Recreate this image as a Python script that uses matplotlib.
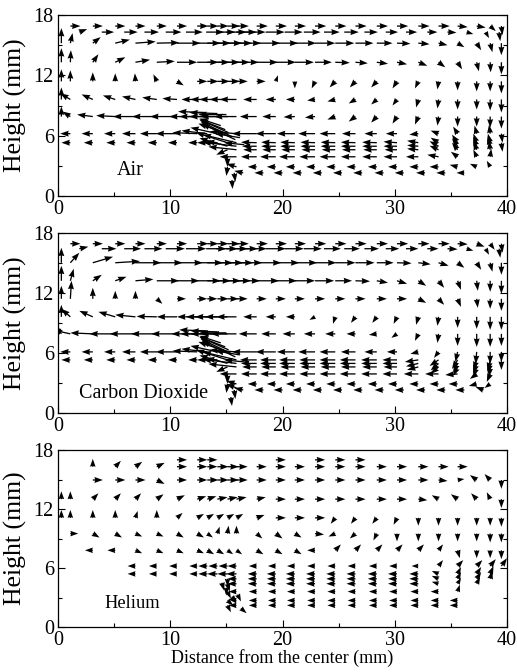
import numpy as np
import matplotlib
matplotlib.use('Agg')
import matplotlib.pyplot as plt
from matplotlib.ticker import MultipleLocator

n = np.nan

# column positions (mm from the centre) of the velocity grid
cols = [0.3, 1.1, 3.1, 5.1, 6.9, 8.8, 10.6, 12.4, 13.3, 14.2, 15.1, 15.9, 17.7,
        19.4, 21.1, 22.9, 24.7, 26.5, 28.4, 30.2, 32.1, 33.9, 35.6, 37.3, 38.5, 39.5]

# ---------------- Air ----------------
air_rows = [16.9, 16.3, 15.2, 13.3, 11.4, 9.6, 7.9, 6.2, 5.3, 4.95, 4.6, 3.9, 2.9, 2.3]
air_u = [
    [n, .9, .9, .9, .9, .9, .9, 1.0, 1.0, 1.0, 1.1, 1.1, 1.0, 1.0, 1.0, 1.0, 1.0, 1.0, 1.0, 1.0, 1.0, 1.0, .9, .8, .5, .1],
    [n, .7, 1.1, 1.2, 1.3, 1.4, 1.5, 1.6, 1.7, 1.8, 1.8, 1.8, 1.7, 1.6, 1.5, 1.4, 1.3, 1.2, 1.1, 1.0, .9, .8, .6, .3, .1, n],
    [0, .2, .7, 1.3, 1.8, 2.0, 2.1, 2.1, 2.1, 2.2, 2.2, 2.2, 2.1, 2.0, 1.9, 1.8, 1.7, 1.6, 1.4, 1.2, 1.0, .8, .6, .4, .2, 0],
    [0, .05, .5, .9, 1.3, 1.6, 1.8, 1.9, 2.0, 2.0, 2.0, 2.0, 1.9, 1.8, 1.7, 1.5, 1.3, 1.1, 1.0, .9, .8, .6, .4, .2, .05, 0],
    [0, 0, 0, 0, -.05, -.3, .6, .9, 1.0, 1.1, 1.1, 1.0, .8, .2, 0, -.3, -.5, -.5, -.5, -.4, -.3, -.1, 0, 0, 0, 0],
    [0, -.9, -1.0, -1.1, -1.2, -1.3, -1.3, -1.4, -1.5, -1.6, -1.6, -1.5, -1.2, -.9, -.8, -.7, -.7, -.6, -.5, -.4, -.2, -.1, 0, 0, 0, 0],
    [0, -.7, -1.4, -1.7, -2.0, -2.2, -2.4, -2.5, -2.5, -2.5, -2.4, -2.0, -1.5, -1.2, -1.0, -.9, -.7, -.6, -.5, -.4, -.3, -.1, 0, 0, 0, 0],
    [n, -.9, -1.0, -1.0, -1.2, -1.5, -1.9, -2.2, -2.3, -2.4, -2.6, -2.4, -2.2, -1.8, -1.6, -1.5, -1.4, -1.2, -1.1, -1.0, -.8, -.7, -.4, -.2, -.1, .1],
    [n, -.8, -.8, -.8, -.8, -.8, -.8, -.8, -.9, -1.0, -2.8, -3.0, -1.4, -1.3, -1.3, -1.3, -1.3, -1.3, -1.3, -1.2, -1.0, -.7, -.5, -.3, -.2, .1],
    [n, n, n, n, n, n, n, n, n, n, -2.5, -3.0, -1.3, -1.3, -1.3, -1.3, -1.3, -1.3, -1.3, -1.2, -1.0, -.8, -.5, -.3, -.2, n],
    [n, n, n, n, n, n, n, n, n, n, -1.0, -2.5, -1.2, -1.2, -1.2, -1.2, -1.2, -1.2, -1.2, -1.1, -1.0, -.8, -.5, -.3, -.1, n],
    [n, n, n, n, n, n, n, n, n, n, 0, -1.5, -1.4, -1.4, -1.4, -1.4, -1.4, -1.3, -1.3, -1.2, -1.1, -1.0, -.6, -.3, .1, n],
    [n, n, n, n, n, n, n, n, n, n, -.1, -.9, -.8, -.8, -.8, -.8, -.8, -.8, -.8, -.8, -.8, -.8, -.7, -.6, -.3, n],
    [n, n, n, n, n, n, n, n, n, n, .1, -.8, -.8, -.8, -.8, -.8, -.8, -.8, -.8, -.8, -.8, -.8, -.7, n, n, n],
]
air_v = [
    [n, 0, 0, 0, 0, 0, 0, 0, 0, 0, 0, 0, 0, 0, 0, 0, 0, 0, 0, 0, 0, 0, -.1, -.15, -.5, -.9],
    [n, .3, 0, 0, 0, 0, 0, 0, 0, 0, 0, 0, 0, 0, 0, 0, 0, 0, 0, 0, 0, -.05, -.2, -.6, -.9, n],
    [1.5, 1.0, .6, .35, .15, .05, 0, 0, 0, 0, 0, 0, 0, 0, 0, 0, 0, 0, 0, -.05, -.1, -.2, -.4, -.7, -.9, -1.2],
    [1.4, 1.2, .8, .5, .25, .1, 0, 0, 0, 0, 0, 0, 0, 0, 0, 0, -.05, -.1, -.15, -.2, -.35, -.5, -.7, -.9, -1.0, -1.2],
    [1.2, 1.1, .9, .8, .8, .7, -.4, 0, 0, 0, 0, 0, 0, .6, -.7, -.7, -.6, -.6, -.6, -.7, -.7, -.8, -.9, -1.0, -1.0, -1.2],
    [1.2, .6, .5, .4, .3, .2, .1, 0, 0, 0, 0, 0, 0, 0, 0, -.1, -.2, -.4, -.5, -.6, -.8, -.9, -1.0, -1.0, -1.1, -1.3],
    [1.0, .5, .2, .1, 0, 0, 0, 0, 0, 0, 0, 0, 0, 0, -.05, -.1, -.3, -.5, -.6, -.7, -.8, -.9, -1.0, -1.0, -1.1, -1.2],
    [n, 0, 0, 0, 0, 0, 0, .1, .3, .6, 1.0, .2, 0, 0, 0, 0, 0, 0, 0, 0, -.1, .3, .7, .8, .9, -.9],
    [n, 0, 0, 0, 0, 0, 0, 0, 0, .1, 1.0, .8, .05, .05, .05, .05, .05, .05, .05, .1, .2, .5, .8, .9, .9, -.9],
    [n, n, n, n, n, n, n, n, n, n, .8, .4, 0, 0, 0, 0, 0, 0, 0, 0, .1, .5, .8, .9, 1.0, n],
    [n, n, n, n, n, n, n, n, n, n, -.5, .3, 0, 0, 0, 0, 0, 0, 0, 0, .1, .4, .7, .8, .9, n],
    [n, n, n, n, n, n, n, n, n, n, -1.0, 0, 0, 0, 0, 0, 0, 0, 0, 0, 0, .2, .5, .7, .8, n],
    [n, n, n, n, n, n, n, n, n, n, -.9, .3, 0, 0, 0, 0, 0, 0, 0, 0, 0, 0, .2, .3, .6, n],
    [n, n, n, n, n, n, n, n, n, n, -.9, .2, 0, 0, 0, 0, 0, 0, 0, 0, 0, 0, 0, n, n, n],
]
air_ex = [15.8, 15.5, 15.2, 14.9, 14.5, 13.2, 14.2, 15.0, 15.5, 16.2, 16.6]
air_ey = [5.6, 5.9, 6.3, 6.6, 7.0, 8.3, 8.2, 8.1, 1.6, 5.8, 5.1]
air_eu = [-3.0, -2.8, -2.6, -2.3, -1.9, -2.5, -2.5, -2.5, 0.05, -2.2, -1.8]
air_ev = [1.6, 1.5, 1.3, 1.0, 0.7, 0.1, 0.1, 0.0, -0.9, 0.4, 0.2]

# ---------------- Carbon Dioxide ----------------
co2_rows = [16.9, 16.4, 15.0, 13.2, 11.4, 9.6, 7.9, 6.1, 5.3, 4.95, 4.6, 3.9, 2.9, 2.3]
co2_u = [
    [n, .9, .9, .9, .9, .9, .9, 1.0, 1.0, 1.0, 1.1, 1.1, 1.0, 1.0, 1.0, 1.0, 1.0, 1.0, 1.0, 1.0, 1.0, 1.0, .9, .7, .4, .1],
    [n, .8, 1.3, 1.5, 1.6, 1.7, 1.8, 1.8, 1.9, 1.9, 1.9, 1.9, 1.8, 1.7, 1.6, 1.5, 1.4, 1.3, 1.2, 1.1, 1.0, .9, .6, .3, .1, n],
    [0, .8, 1.8, 2.2, 2.3, 2.3, 2.3, 2.3, 2.3, 2.3, 2.3, 2.3, 2.2, 2.1, 2.0, 1.9, 1.8, 1.7, 1.5, 1.3, 1.1, .9, .6, .4, .2, 0],
    [0, .3, .8, 1.0, 1.6, 2.0, 2.0, 2.1, 2.1, 2.1, 2.1, 2.1, 2.0, 1.9, 1.8, 1.7, 1.5, 1.3, 1.0, .9, .7, .5, .3, .1, 0, 0],
    [0, .1, 0, 0, 0, .5, .8, .9, .9, 1.0, 1.0, 1.0, .9, .9, .9, .9, .9, .9, .9, .9, .7, .5, .3, .1, 0, 0],
    [0, -.8, -1.2, -1.5, -1.8, -1.8, -1.8, -1.8, -1.9, -2.0, -2.0, -1.8, -1.2, -.9, -.8, -.5, -.2, -.4, -.4, -.3, -.2, -.1, 0, 0, 0, 0],
    [-.5, -1.6, -2.0, -2.3, -2.3, -2.3, -2.3, -2.3, -2.4, -2.4, -2.4, -2.3, -1.6, -1.3, -1.1, -1.0, -.9, -.8, -.7, -.5, -.3, -.1, 0, 0, 0, 0],
    [n, -.9, -1.0, -1.0, -1.2, -1.5, -1.9, -2.2, -2.3, -2.4, -2.6, -2.4, -2.2, -1.8, -1.6, -1.5, -1.4, -1.3, -1.1, -.9, -.7, -.4, -.2, -.1, 0, 0],
    [n, -.8, -.8, -.8, -.8, -.8, -.8, -.8, -.9, -1.0, -2.8, -3.0, -1.5, -1.4, -1.4, -1.4, -1.4, -1.4, -1.4, -1.3, -1.2, -.8, -.5, -.3, -.2, 0],
    [n, n, n, n, n, n, n, n, n, n, -2.5, -3.0, -1.4, -1.4, -1.4, -1.4, -1.4, -1.4, -1.4, -1.3, -1.1, -.7, -.4, -.3, -.2, n],
    [n, n, n, n, n, n, n, n, n, n, -1.0, -2.5, -1.3, -1.3, -1.3, -1.3, -1.3, -1.3, -1.3, -1.2, -1.0, -.7, -.4, -.3, -.1, n],
    [n, n, n, n, n, n, n, n, n, n, 0, -1.5, -1.4, -1.4, -1.4, -1.4, -1.4, -1.4, -1.4, -1.3, -1.3, -1.2, -1.1, -.6, -.3, n],
    [n, n, n, n, n, n, n, n, n, n, -.1, -.9, -.8, -.8, -.8, -.8, -.8, -.8, -.8, -.8, -.8, -.8, -.8, -.7, -.5, n],
    [n, n, n, n, n, n, n, n, n, n, .1, -.8, -.8, -.8, -.8, -.8, -.8, -.8, -.8, -.8, -.8, -.8, -.8, -.7, n, n],
]
co2_v = [
    [n, 0, 0, 0, 0, 0, 0, 0, 0, 0, 0, 0, 0, 0, 0, 0, 0, 0, 0, 0, 0, 0, -.05, -.3, -.6, -.9],
    [n, .2, 0, 0, 0, 0, 0, 0, 0, 0, 0, 0, 0, 0, 0, 0, 0, 0, 0, 0, 0, -.05, -.2, -.6, -.9, n],
    [1.5, 1.0, .6, .15, 0, 0, 0, 0, 0, 0, 0, 0, 0, 0, 0, 0, 0, 0, 0, -.05, -.15, -.3, -.5, -.7, -.9, -1.2],
    [1.5, 1.2, .6, .4, .15, 0, 0, 0, 0, 0, 0, 0, 0, 0, 0, 0, 0, -.05, -.2, -.3, -.5, -.7, -.9, -1.0, -1.1, -1.3],
    [1.3, 1.8, 1.1, .8, .8, -.5, 0, 0, 0, 0, 0, 0, 0, 0, 0, 0, 0, 0, 0, 0, -.4, -.6, -.8, -.9, -1.0, -1.2],
    [1.2, .8, .6, .5, .2, .05, 0, 0, 0, 0, 0, 0, 0, 0, 0, -.3, -.7, -.6, -.6, -.7, -.8, -.9, -1.1, -1.2, -1.3, -1.3],
    [.8, .4, .1, 0, 0, 0, 0, 0, 0, 0, 0, 0, 0, 0, 0, 0, 0, 0, -.1, -.4, -.7, -.9, -1.2, -1.3, -1.3, -1.2],
    [n, 0, 0, 0, 0, 0, 0, .1, .3, .6, 1.0, .2, 0, 0, 0, 0, 0, 0, 0, 0, -.2, -.6, -1.0, -1.2, -1.2, -1.0],
    [n, 0, 0, 0, 0, 0, 0, 0, 0, .1, 1.0, .8, 0, 0, 0, 0, 0, 0, 0, 0, -.2, -.6, -.9, -1.0, -1.1, -1.0],
    [n, n, n, n, n, n, n, n, n, n, .8, .4, 0, 0, 0, 0, 0, 0, 0, 0, -.3, -.7, -.9, -1.0, -1.0, n],
    [n, n, n, n, n, n, n, n, n, n, -.5, .3, 0, 0, 0, 0, 0, 0, 0, 0, -.3, -.7, -.9, -1.0, -1.0, n],
    [n, n, n, n, n, n, n, n, n, n, -1.0, 0, 0, 0, 0, 0, 0, 0, 0, 0, 0, 0, -.1, -.5, -.8, n],
    [n, n, n, n, n, n, n, n, n, n, -.9, .3, 0, 0, 0, 0, 0, 0, 0, 0, 0, 0, 0, -.2, -.4, n],
    [n, n, n, n, n, n, n, n, n, n, -.9, .2, 0, 0, 0, 0, 0, 0, 0, 0, 0, 0, 0, .3, n, n],
]
co2_ex = [15.8, 15.5, 15.2, 14.9, 14.5, 13.2, 14.2, 15.0, 15.4, 16.2, 16.6, 15.9]
co2_ey = [5.6, 5.9, 6.3, 6.6, 7.0, 8.2, 8.1, 8.0, 1.6, 5.8, 5.1, 2.5]
co2_eu = [-3.0, -2.8, -2.6, -2.3, -1.9, -2.4, -2.4, -2.4, 0.1, -2.2, -1.8, -0.9]
co2_ev = [1.6, 1.5, 1.3, 1.0, 0.7, 0.1, 0.1, 0.0, -0.9, 0.4, 0.2, 0.4]

# ---------------- Helium ----------------
he_rows = [17.0, 16.3, 14.95, 13.0, 11.1, 9.5, 7.8, 6.2, 5.4, 4.9, 4.4, 3.6, 2.7, 2.2]
he_u = [
    [n, n, n, n, n, n, .9, .9, .9, n, n, n, n, .9, n, .9, .9, .9, n, n, n, n, n, n, n, n],
    [n, n, 0, .5, .6, .7, .9, .9, .9, 1.0, 1.0, 1.0, .9, .9, .9, .9, .9, .9, .9, .9, .9, .9, .9, n, n, n],
    [n, n, .9, .9, .9, .7, .9, .9, 1.0, 1.0, 1.0, 1.0, .9, .9, .9, .9, .9, .9, .9, .9, .9, .8, .6, -.6, -.5, 0],
    [0, 0, .5, .5, .5, .6, .7, .8, .8, .9, .9, .9, .8, .9, .9, .9, .9, .9, .9, .9, .8, -.6, -.6, -.5, -.3, 0],
    [0, 0, 0, 0, .2, 0, .5, .6, .6, .6, .6, .6, .7, .9, .9, .9, -.4, -.4, -.4, -.3, 0, 0, 0, 0, 0, 0],
    [n, .7, .6, .6, .6, .6, .6, .6, .5, .2, .1, 0, .5, .6, .6, .8, -.6, -.5, -.3, 0, 0, 0, 0, 0, 0, 0],
    [n, n, -.7, -.7, .6, .6, .6, .6, .6, .6, .5, .5, .6, .6, .6, -.7, .5, .5, .5, .5, .5, .4, .2, 0, 0, 0],
    [n, n, n, n, -.7, -.7, -.7, -.7, -.8, -.8, -.8, -.8, -.7, -.7, -.7, -.7, -.7, -.7, -.7, -.7, -.6, .4, .5, .5, .5, .5],
    [n, n, n, n, -.7, -.7, -.7, -.7, -.8, -.9, -.9, -.9, -.8, -.8, -.8, -.8, -.8, -.8, -.8, -.8, -.8, -.6, .3, .4, .3, n],
    [n, n, n, n, n, n, n, n, n, n, 0, -.8, -.8, -.8, -.8, -.8, -.8, -.8, -.8, -.8, -.8, -.6, .3, .4, .2, n],
    [n, n, n, n, n, n, n, n, n, n, .2, -.8, -.8, -.8, -.8, -.8, -.8, -.8, -.8, -.8, -.8, -.6, .3, .3, n, n],
    [n, n, n, n, n, n, n, n, n, n, .3, -.7, -.7, -.7, -.7, -.7, -.7, -.7, -.7, -.7, -.7, -.7, .2, n, n, n],
    [n, n, n, n, n, n, n, n, n, n, .5, -.7, -.7, -.7, -.7, -.7, -.7, -.7, -.7, -.7, -.7, -.7, -.7, n, n, n],
    [n, n, n, n, n, n, n, n, n, n, .3, -.7, -.7, -.7, -.7, -.7, -.7, -.7, -.7, -.7, -.7, -.7, -.7, n, n, n],
]
he_v = [
    [n, n, n, n, n, n, 0, 0, 0, n, n, n, n, 0, n, 0, 0, 0, n, n, n, n, n, n, n, n],
    [n, n, .8, .6, .5, .4, 0, 0, 0, 0, 0, 0, 0, 0, 0, 0, 0, 0, 0, 0, 0, 0, 0, n, n, n],
    [n, n, 0, 0, 0, -.4, 0, 0, 0, 0, 0, 0, 0, 0, 0, 0, 0, 0, 0, 0, 0, -.1, .1, .5, .6, -.9],
    [.8, .8, .6, .6, .6, .5, .4, .3, .3, .2, .2, .2, .2, 0, 0, 0, 0, 0, 0, 0, -.1, .4, .5, .6, .7, -.9],
    [.8, .8, .8, .8, .7, .8, .5, .4, .4, .4, .4, .4, .3, 0, 0, 0, -.6, -.6, -.6, -.7, -.8, -.8, -.8, -.8, -.8, -.9],
    [n, 0, -.4, -.4, -.3, -.3, -.4, -.4, -.4, .7, .8, .8, -.5, -.5, -.4, -.1, -.3, -.5, -.7, -.8, -.8, -.8, -.8, -.8, -.9, -.9],
    [n, n, 0, 0, -.3, -.3, -.3, -.3, -.4, -.4, -.4, -.4, -.4, -.4, -.4, 0, .6, .6, .6, .6, .6, .6, -.8, -.8, -.8, -.9],
    [n, n, n, n, 0, 0, 0, 0, 0, 0, 0, 0, 0, 0, 0, 0, 0, 0, 0, 0, 0, .6, .6, .6, .7, .8],
    [n, n, n, n, 0, 0, 0, 0, 0, 0, 0, 0, 0, 0, 0, 0, 0, 0, 0, 0, 0, .3, .7, .7, .8, n],
    [n, n, n, n, n, n, n, n, n, n, -.8, 0, 0, 0, 0, 0, 0, 0, 0, 0, 0, .3, .7, .7, .8, n],
    [n, n, n, n, n, n, n, n, n, n, -.8, 0, 0, 0, 0, 0, 0, 0, 0, 0, 0, .2, .6, .7, n, n],
    [n, n, n, n, n, n, n, n, n, n, -.7, 0, 0, 0, 0, 0, 0, 0, 0, 0, 0, 0, .7, n, n, n],
    [n, n, n, n, n, n, n, n, n, n, -.5, .1, 0, 0, 0, 0, 0, 0, 0, 0, 0, 0, 0, n, n, n],
    [n, n, n, n, n, n, n, n, n, n, -.7, 0, 0, 0, 0, 0, 0, 0, 0, 0, 0, 0, 0, n, n, n],
]
he_ex = [15.0, 15.5, 16.3, 14.6, 16.0]
he_ey = [4.0, 3.1, 1.9, 4.5, 3.3]
he_eu = [0.0, 0.4, 0.5, 0.2, 0.3]
he_ev = [-0.8, -0.6, -0.5, -0.8, -0.7]

panel_names = ['Air', 'Carbon Dioxide', 'Helium']
x_ticks = [0, 10, 20, 30, 40]
y_ticks = [0, 6, 12, 18]

# ---------------- drawing ----------------
plt.rcParams['font.family'] = ['Liberation Serif', 'DejaVu Serif']

fig = plt.figure(figsize=(5.17, 6.72), dpi=100)
W, H = 517.0, 672.0
rects = [(58, 15, 507, 196), (58, 232.7, 507, 413), (58, 450, 507, 627)]
row_shift = [
    [0, 0.8, 0, 0, 0, 0, 0, 0, 0, 0, 0, 0, 0, 0.6],
    [0, 0.8, 0, 0, 0, 0, 0, 0, 0, 0, 0, 0, 0, 0.6],
    [0, 0, 0, 0, 0, 0, 0, 0, 0, 0, 0, 0, 0, 0],
]
text_pos = [(6.4, 2.09, 14.5), (7.6, 1.5, 14.5), (6.6, 1.9, 13.2)]

datasets = [
    (air_rows, air_u, air_v, air_ex, air_ey, air_eu, air_ev),
    (co2_rows, co2_u, co2_v, co2_ex, co2_ey, co2_eu, co2_ev),
    (he_rows, he_u, he_v, he_ex, he_ey, he_eu, he_ev),
]

for i, (rows, U, V, ex, ey, eu, ev) in enumerate(datasets):
    l, t, r, b = rects[i]
    ax = fig.add_axes([l / W, 1 - b / H, (r - l) / W, (b - t) / H])
    X, Y, UU, VV = [], [], [], []
    for yv, urow, vrow, dx in zip(rows, U, V, row_shift[i]):
        for xc, uu, vv in zip(cols, urow, vrow):
            if np.isnan(uu) or np.isnan(vv):
                continue
            X.append(xc + dx); Y.append(yv); UU.append(uu); VV.append(vv)
    X += ex; Y += ey; UU += eu; VV += ev
    ax.quiver(X, Y, UU, VV, angles='xy', scale_units='xy', scale=1,
              units='dots', width=1.3, headwidth=4.6, headlength=6.5,
              headaxislength=6.0, minshaft=1, minlength=0.5,
              color='black', zorder=3)
    ax.set_xlim(0, 40)
    ax.set_ylim(0, 18)
    ax.set_xticks(x_ticks)
    ax.set_yticks(y_ticks)
    ax.xaxis.set_minor_locator(MultipleLocator(5))
    ax.yaxis.set_minor_locator(MultipleLocator(3))
    ax.tick_params(which='both', direction='in', top=False, right=True,
                   labelsize=14.5, width=0.8)
    ax.tick_params(which='major', length=5, pad=3)
    ax.tick_params(which='minor', length=3)
    for sp in ax.spines.values():
        sp.set_linewidth(0.9)
    ax.set_ylabel('Height (mm)', fontsize=18.5)
    ax.yaxis.set_label_coords(-0.07, 0.5)
    tx, ty, fs = text_pos[i]
    ax.text(tx, ty, panel_names[i], ha='center', va='baseline', fontsize=fs)
    if i == 2:
        ax.set_xlabel('Distance from the center (mm)', fontsize=13)
        ax.xaxis.set_label_coords(0.5, -0.125)

fig.savefig('out.png', dpi=100)
